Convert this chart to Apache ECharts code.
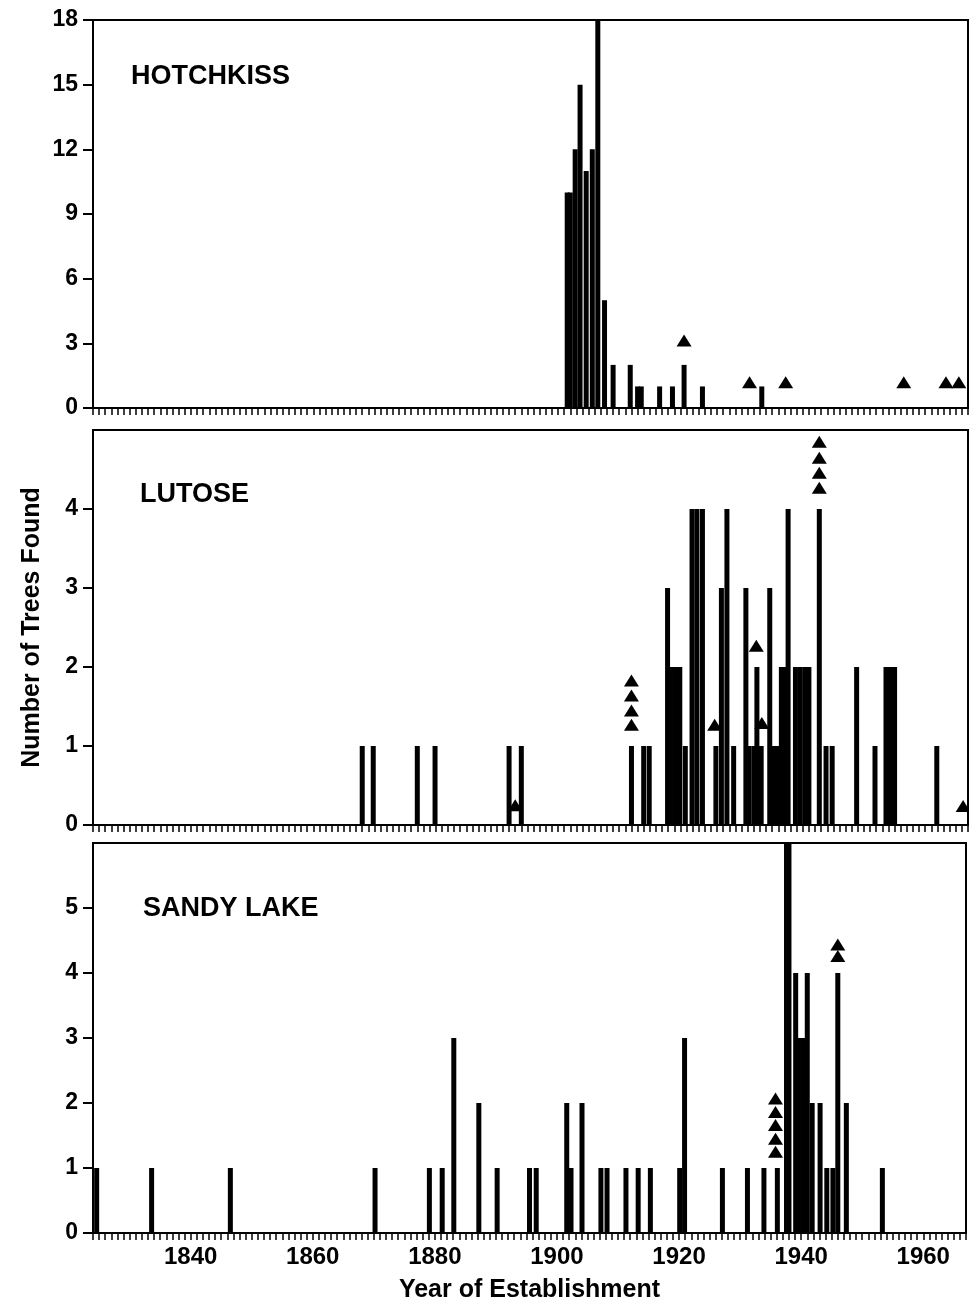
<!DOCTYPE html>
<html><head><meta charset="utf-8">
<script src="https://cdn.jsdelivr.net/npm/echarts@6/dist/echarts.min.js"></script>
<style>html,body{margin:0;padding:0;background:#fff}#c{width:969px;height:1308px}</style>
</head><body><div id="c"></div>
<script>
// ---- data ----
const panelNames = ['HOTCHKISS', 'LUTOSE', 'SANDY LAKE'];
const xTickLabels = [1840, 1860, 1880, 1900, 1920, 1940, 1960];

const hotYTicks = [0, 3, 6, 9, 12, 15, 18];
const hotYears  = [1901.5, 1902.0, 1902.8, 1903.6, 1904.6, 1905.6, 1906.5, 1907.6, 1909.0, 1911.8, 1913.0, 1913.6, 1916.6, 1918.7, 1920.6, 1923.6, 1933.3];
const hotCounts = [10, 10, 12, 15, 11, 12, 18, 5, 2, 2, 1, 1, 1, 1, 2, 1, 1];
const hotTriYears  = [1920.6, 1931.3, 1937.2, 1956.5, 1963.4, 1965.5];
const hotTriLevels = [3.13, 1.2, 1.2, 1.2, 1.2, 1.2];

const lutYTicks = [0, 1, 2, 3, 4];
const lutYears  = [1868.0, 1869.8, 1877.0, 1879.9, 1892.0, 1894.0, 1912.0, 1914.0, 1914.9, 1917.9, 1918.4, 1919.2, 1919.9, 1920.8,
                   1921.9, 1922.7, 1923.6, 1925.8, 1926.7, 1927.6, 1928.7, 1930.7, 1931.2, 1932.0, 1932.5, 1933.2,
                   1934.6, 1935.3, 1935.8, 1936.5, 1937.1, 1937.6, 1938.8, 1939.6, 1940.4, 1941.0, 1942.7,
                   1943.8, 1944.8, 1948.8, 1951.8, 1953.6, 1954.3, 1955.0, 1961.9];
const lutCounts = [1, 1, 1, 1, 1, 1, 1, 1, 1, 3, 2, 2, 2, 1,
                   4, 4, 4, 1, 3, 4, 1, 3, 1, 1, 2, 1,
                   3, 1, 1, 2, 2, 4, 2, 2, 2, 2, 4,
                   1, 1, 2, 1, 2, 2, 2, 1];
const lutTriYears  = [1893.0, 1912.0, 1912.0, 1912.0, 1912.0, 1925.6, 1932.4, 1933.3, 1942.7, 1942.7, 1942.7, 1942.7, 1966.2];
const lutTriLevels = [0.25, 1.27, 1.45, 1.64, 1.83, 1.27, 2.27, 1.29, 4.27, 4.46, 4.65, 4.85, 0.24];

const sandyYTicks = [0, 1, 2, 3, 4, 5];
const sandyYears  = [1824.6, 1833.6, 1846.5, 1870.2, 1879.1, 1881.2, 1883.1, 1887.2, 1890.2, 1895.5, 1896.6, 1901.6, 1902.3,
                     1904.1, 1907.2, 1908.2, 1911.3, 1913.3, 1915.3, 1920.1, 1920.9, 1927.1, 1931.2, 1933.9, 1936.1,
                     1937.6, 1938.0, 1939.1, 1939.7, 1940.4, 1941.0, 1941.8, 1943.1, 1944.2, 1945.2, 1946.0, 1947.4, 1953.3];
const sandyCounts = [1, 1, 1, 1, 1, 1, 3, 2, 1, 1, 1, 2, 1,
                     2, 1, 1, 1, 1, 1, 1, 3, 1, 1, 1, 1,
                     6, 6, 4, 3, 3, 4, 2, 2, 1, 1, 4, 2, 1];
const sandyTriYears  = [1935.8, 1935.8, 1935.8, 1935.8, 1935.8, 1946.0, 1946.0];
const sandyTriLevels = [1.25, 1.45, 1.66, 1.86, 2.07, 4.26, 4.44];

// ---- chart ----
const FONT = '"Liberation Sans", Arial, Helvetica, sans-serif';
const panels = [
  {name: panelNames[0], years: hotYears, counts: hotCounts, triY: hotTriYears, triL: hotTriLevels, ticks: hotYTicks, max: 18, interval: 3, top: 20, height: 388},
  {name: panelNames[1], years: lutYears, counts: lutCounts, triY: lutTriYears, triL: lutTriLevels, ticks: lutYTicks, max: 5, interval: 1, top: 430, height: 395},
  {name: panelNames[2], years: sandyYears, counts: sandyCounts, triY: sandyTriYears, triL: sandyTriLevels, ticks: sandyYTicks, max: 6, interval: 1, top: 843, height: 390}
];
const LEFT = 93, WIDTH = 875;

const grid = [], xAxis = [], yAxis = [], series = [], title = [];
panels.forEach((p, i) => {
  grid.push({left: LEFT, top: p.top, width: WIDTH, height: p.height, show: true, borderColor: '#000', borderWidth: 2, backgroundColor: 'transparent'});
  const last = i === panels.length - 1;
  xAxis.push({
    type: 'value', gridIndex: i, min: 1824, max: 1967, interval: 1,
    axisLine: {show: true, onZero: false, lineStyle: {color: '#000', width: 2}},
    axisTick: {show: true, length: 7, lineStyle: {color: '#000', width: 1.5}},
    splitLine: {show: false},
    axisLabel: {
      show: last, margin: 12, color: '#000', fontFamily: FONT, fontWeight: 'bold', fontSize: 24,
      formatter: v => (xTickLabels.indexOf(v) >= 0 ? String(v) : '')
    },
    name: last ? 'Year of Establishment' : '',
    nameLocation: 'middle', nameGap: 45,
    nameTextStyle: {color: '#000', fontFamily: FONT, fontWeight: 'bold', fontSize: 25}
  });
  yAxis.push({
    type: 'value', gridIndex: i, min: 0, max: p.max, interval: p.interval,
    axisLine: {show: true, lineStyle: {color: '#000', width: 2}},
    axisTick: {show: true, length: 10, customValues: p.ticks, lineStyle: {color: '#000', width: 2}},
    splitLine: {show: false},
    axisLabel: {margin: 15, color: '#000', fontFamily: FONT, fontWeight: 'bold', fontSize: 23, customValues: p.ticks},
    name: i === 1 ? 'Number of Trees Found' : '',
    nameLocation: 'middle', nameRotate: 90, nameGap: 48,
    nameTextStyle: {color: '#000', fontFamily: FONT, fontWeight: 'bold', fontSize: 25}
  });
  series.push({
    type: 'bar', xAxisIndex: i, yAxisIndex: i, barWidth: 5, itemStyle: {color: '#000'},
    data: p.years.map((y, k) => [y, p.counts[k]]), animation: false, silent: true
  });
  series.push({
    type: 'scatter', xAxisIndex: i, yAxisIndex: i, symbol: 'triangle', symbolSize: [15, 12],
    itemStyle: {color: '#000', opacity: 1}, data: p.triY.map((y, k) => [y, p.triL[k]]), animation: false, silent: true, z: 3
  });
});
const titleStyle = {color: '#000', fontFamily: FONT, fontWeight: 'bold', fontSize: 27};
title.push({text: panelNames[0], left: 131, top: 63, padding: 0, textStyle: titleStyle});
title.push({text: panelNames[1], left: 140, top: 481, padding: 0, textStyle: titleStyle});
title.push({text: panelNames[2], left: 143, top: 895, padding: 0, textStyle: titleStyle});

const chart = echarts.init(document.getElementById('c'), null, {renderer: 'canvas'});
chart.setOption({backgroundColor: '#fff', animation: false, title, grid, xAxis, yAxis, series});
</script>
</body></html>
